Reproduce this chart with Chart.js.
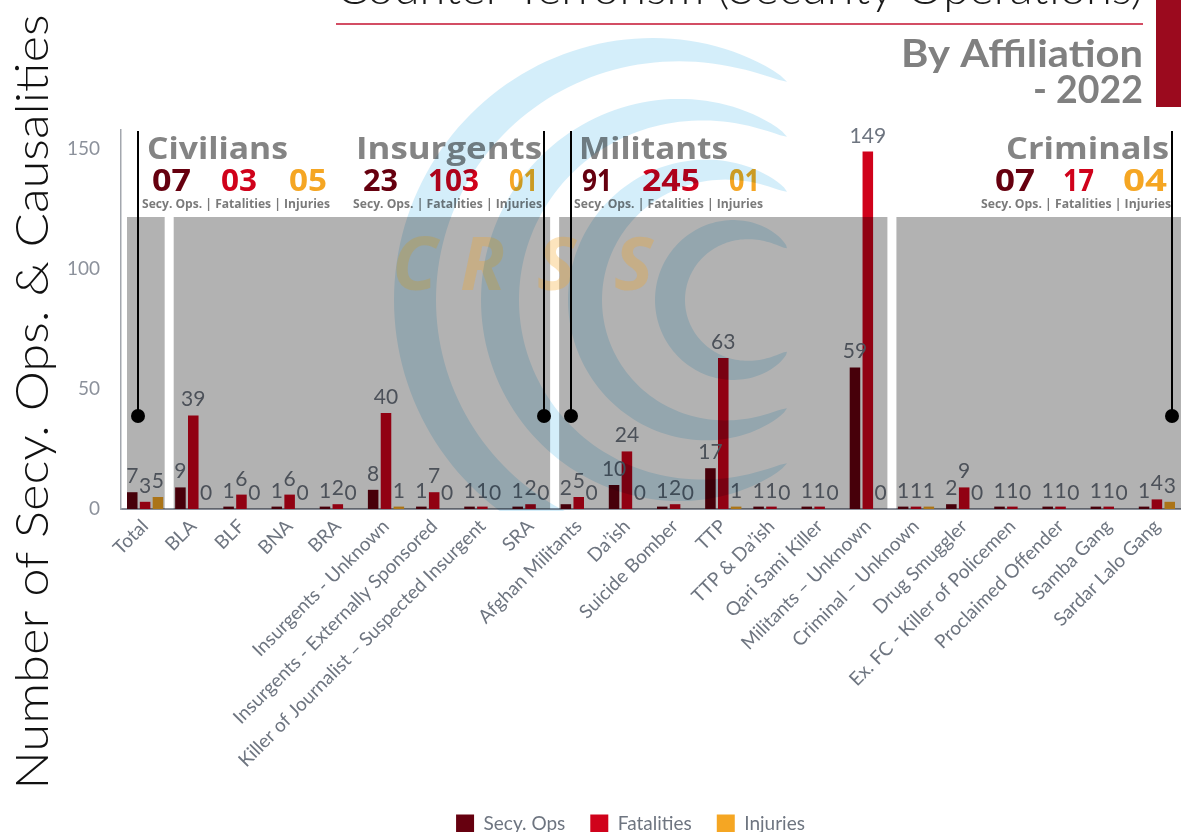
<!DOCTYPE html>
<html><head><meta charset="utf-8">
<script src="https://cdn.jsdelivr.net/npm/chart.js@4.4.1/dist/chart.umd.min.js"></script>
<style>html,body{margin:0;padding:0;background:#fff;overflow:hidden}canvas{display:block}</style>
</head><body>
<canvas id="c" width="1181" height="843"></canvas>
<script>
const categories = ["Total","BLA","BLF","BNA","BRA","Insurgents - Unknown","Insurgents - Externally Sponsored","Killer of Journalist \u2013 Suspected Insurgent","SRA","Afghan Militants","Da\u2019ish","Suicide Bomber","TTP","TTP & Da\u2019ish","Qari Sami Killer","Militants \u2013 Unknown","Criminal \u2013 Unknown","Drug Smuggler","Ex. FC - Killer of Policemen","Proclaimed Offender","Samba Gang","Sardar Lalo Gang"];
const secyOps    = [7, 9, 1, 1, 1, 8, 1, 1, 1, 2, 10, 1, 17, 1, 1, 59, 1, 2, 1, 1, 1, 1];
const fatalities = [3,39, 6, 6, 2,40, 7, 1, 2, 5, 24, 2, 63, 1, 1,149, 1, 9, 1, 1, 1, 4];
const injuries   = [5, 0, 0, 0, 0, 1, 0, 0, 0, 0,  0, 0,  1, 0, 0,  0, 1, 0, 0, 0, 0, 3];
const yTicks = [0, 50, 100, 150];
const seriesNames = ["Secy. Ops", "Fatalities", "Injuries"];
const groupNames = ["Civilians", "Insurgents", "Militants", "Criminals"];
const groupSecy  = ["07", "23", "91", "07"];
const groupFat   = ["03", "103", "245", "17"];
const groupInj   = ["05", "01", "01", "04"];
const groupSub = "Secy. Ops. | Fatalities | Injuries";
const titleText = "Counter-Terrorism (Security Operations)";
const subTitle1 = "By Affiliation";
const subTitle2 = "- 2022";
const yTitle = "Number of Secy. Ops. & Causalities";

const C_SECY = '#66000f', C_FAT = '#d0021b', C_INJ = '#f5a623';

function fitText(ctx, text, x, y, w, font, color) {
  ctx.save();
  ctx.font = font; ctx.fillStyle = color; ctx.textAlign = 'left'; ctx.textBaseline = 'alphabetic';
  const m = ctx.measureText(text).width;
  ctx.translate(x, y); ctx.scale(w / m, 1);
  ctx.fillText(text, 0, 0);
  ctx.restore();
}

const bgPlugin = {
  id: 'bg',
  afterLayout(chart) {
    if (chart.legend) { chart.legend.left += 40; chart.legend.right += 40; }
  },
  beforeDraw(chart) {
    const ctx = chart.ctx;
    ctx.save(); ctx.fillStyle = '#fff'; ctx.fillRect(0, 0, chart.width, chart.height); ctx.restore();
  }
};

const labelsAndOverlay = {
  id: 'labelsOverlay',
  afterDatasetsDraw(chart) {
    const ctx = chart.ctx;
    ctx.save();
    ctx.font = '21px Lato'; ctx.fillStyle = '#6e7580'; ctx.textAlign = 'center'; ctx.textBaseline = 'alphabetic';
    chart.data.datasets.forEach((ds, i) => {
      chart.getDatasetMeta(i).data.forEach((el, j) => {
        ctx.fillText(String(ds.data[j]), el.x, el.y - 9);
      });
    });
    const xs = chart.scales.x, area = chart.chartArea;
    const b = i => (xs.getPixelForValue(i - 1) + xs.getPixelForValue(i)) / 2;
    const top = 217, bot = area.bottom;
    const panels = [[area.left + 6, b(1) - 4.5], [b(1) + 4.5, b(9) - 4.5], [b(9) + 4.5, b(16) - 4.5], [b(16) + 4.5, area.right]];
    ctx.fillStyle = 'rgba(0,0,0,0.3)';
    panels.forEach(p => ctx.fillRect(p[0], top, p[1] - p[0], bot - top));
    ctx.restore();
  },
  afterDraw(chart) {
    const ctx = chart.ctx;
    ctx.save();
    ctx.font = 'italic bold 74px "Open Sans"'; ctx.fillStyle = 'rgba(245,166,35,0.3)'; ctx.textBaseline = 'alphabetic';
    [['C', 392], ['R', 460], ['S', 537], ['S', 614]].forEach(l => ctx.fillText(l[0], l[1], 290));

    fitText(ctx, titleText, 336, 4, 807, '300 44px Lato', '#1a1a1a');
    ctx.strokeStyle = '#c41230'; ctx.lineWidth = 1.5;
    ctx.beginPath(); ctx.moveTo(336, 24); ctx.lineTo(1143, 24); ctx.stroke();
    fitText(ctx, subTitle1, 901, 67, 242, 'bold 38px Lato', '#808080');
    fitText(ctx, subTitle2, 1033, 103, 110, 'bold 38px Lato', '#808080');
    ctx.fillStyle = '#9b0a1e'; ctx.fillRect(1156, 0, 25, 107);

    const HF = 'bold 31px "Open Sans"', NF = 'bold 31px "Open Sans"', SF = 'bold 12px "Open Sans"';
    const hdr = [
      {n: [147, 141], nums: [[152, 39], [221, 36], [289, 38]], sub: [142, 188]},
      {n: [356, 186], nums: [[363, 35], [428, 51], [509, 29]], sub: [353, 189]},
      {n: [579, 149], nums: [[582, 30], [642, 58], [729, 31]], sub: [574, 189]},
      {n: [1006, 163], nums: [[995, 40], [1063, 31], [1123, 44]], sub: [981, 190]}
    ];
    const nums = [groupSecy, groupFat, groupInj], cols = [C_SECY, C_FAT, C_INJ];
    hdr.forEach((h, g) => {
      fitText(ctx, groupNames[g], h.n[0], 159, h.n[1], HF, '#848484');
      h.nums.forEach((p, k) => fitText(ctx, nums[k][g], p[0], 191, p[1], NF, cols[k]));
      fitText(ctx, groupSub, h.sub[0], 208, h.sub[1], SF, '#7a7a7a');
    });

    ctx.strokeStyle = '#000'; ctx.fillStyle = '#000'; ctx.lineWidth = 2;
    [138, 544, 571, 1172].forEach(x => {
      ctx.beginPath(); ctx.moveTo(x, 131); ctx.lineTo(x, 416); ctx.stroke();
      ctx.beginPath(); ctx.arc(x, 416, 7, 0, Math.PI * 2); ctx.fill();
    });

    ctx.save();
    ctx.translate(48, 402); ctx.rotate(-Math.PI / 2);
    ctx.font = '300 46px Lato';
    const m = ctx.measureText(yTitle).width;
    ctx.scale(775 / m, 1);
    ctx.fillStyle = '#111'; ctx.textAlign = 'center';
    ctx.fillText(yTitle, 0, 0);
    ctx.restore();

    ctx.save();
    ctx.beginPath(); ctx.rect(0, 28, 792, 483); ctx.clip();
    ctx.globalCompositeOperation = 'multiply';
    ctx.fillStyle = '#d4eefa';
    const cy = 300;
    [[665, 250, 42], [690, 190, 38], [715, 130, 34], [740, 70, 30]].forEach(([cx, r, t]) => {
      const c = (787 - cx) / r;
      const fmax = Math.acos(-c);
      const outer = [], inner = [];
      const N = 120;
      for (let k = 0; k <= N; k++) {
        const f = -fmax + 2 * fmax * k / N;
        const w = t * Math.pow(Math.max(0, Math.cos(f / fmax * Math.PI / 2)), 0.6);
        const th = Math.PI + f;
        outer.push([cx + (r + w / 2) * Math.cos(th), cy + (r + w / 2) * Math.sin(th)]);
        inner.push([cx + (r - w / 2) * Math.cos(th), cy + (r - w / 2) * Math.sin(th)]);
      }
      ctx.beginPath();
      outer.forEach((p, i) => i ? ctx.lineTo(p[0], p[1]) : ctx.moveTo(p[0], p[1]));
      inner.reverse().forEach(p => ctx.lineTo(p[0], p[1]));
      ctx.closePath(); ctx.fill();
    });
    ctx.restore();
    ctx.restore();
  }
};

new Chart(document.getElementById('c'), {
  type: 'bar',
  data: {
    labels: categories,
    datasets: [
      {label: seriesNames[0], data: secyOps, backgroundColor: C_SECY},
      {label: seriesNames[1], data: fatalities, backgroundColor: C_FAT},
      {label: seriesNames[2], data: injuries, backgroundColor: C_INJ}
    ]
  },
  options: {
    responsive: false, animation: false, devicePixelRatio: 1,
    layout: {padding: {top: 130, left: 0, right: 0, bottom: 0}},
    datasets: {bar: {categoryPercentage: 0.8, barPercentage: 0.82}},
    plugins: {
      legend: {position: 'bottom', labels: {boxWidth: 18, boxHeight: 18, padding: 25, color: '#6e7580', font: {family: 'Lato', size: 19}}},
      tooltip: {enabled: false}, title: {display: false}
    },
    scales: {
      x: {
        grid: {display: false, drawTicks: false},
        border: {display: true, color: '#8a8f99', width: 2},
        ticks: {maxRotation: 45, minRotation: 45, autoSkip: false, padding: 6, color: '#6e7580', font: {family: 'Lato', size: 19}},
        afterFit(s) { s.height = 280; }
      },
      y: {
        min: 0, max: 158,
        grid: {display: false, drawTicks: false},
        border: {display: true, color: '#a3a7ae', width: 1.5},
        ticks: {padding: 21, color: '#8c919b', font: {family: 'Lato', size: 19}},
        afterBuildTicks(s) { s.ticks = yTicks.map(v => ({value: v})); },
        afterFit(s) { s.width = 121; }
      }
    }
  },
  plugins: [bgPlugin, labelsAndOverlay]
});
</script>
</body></html>
